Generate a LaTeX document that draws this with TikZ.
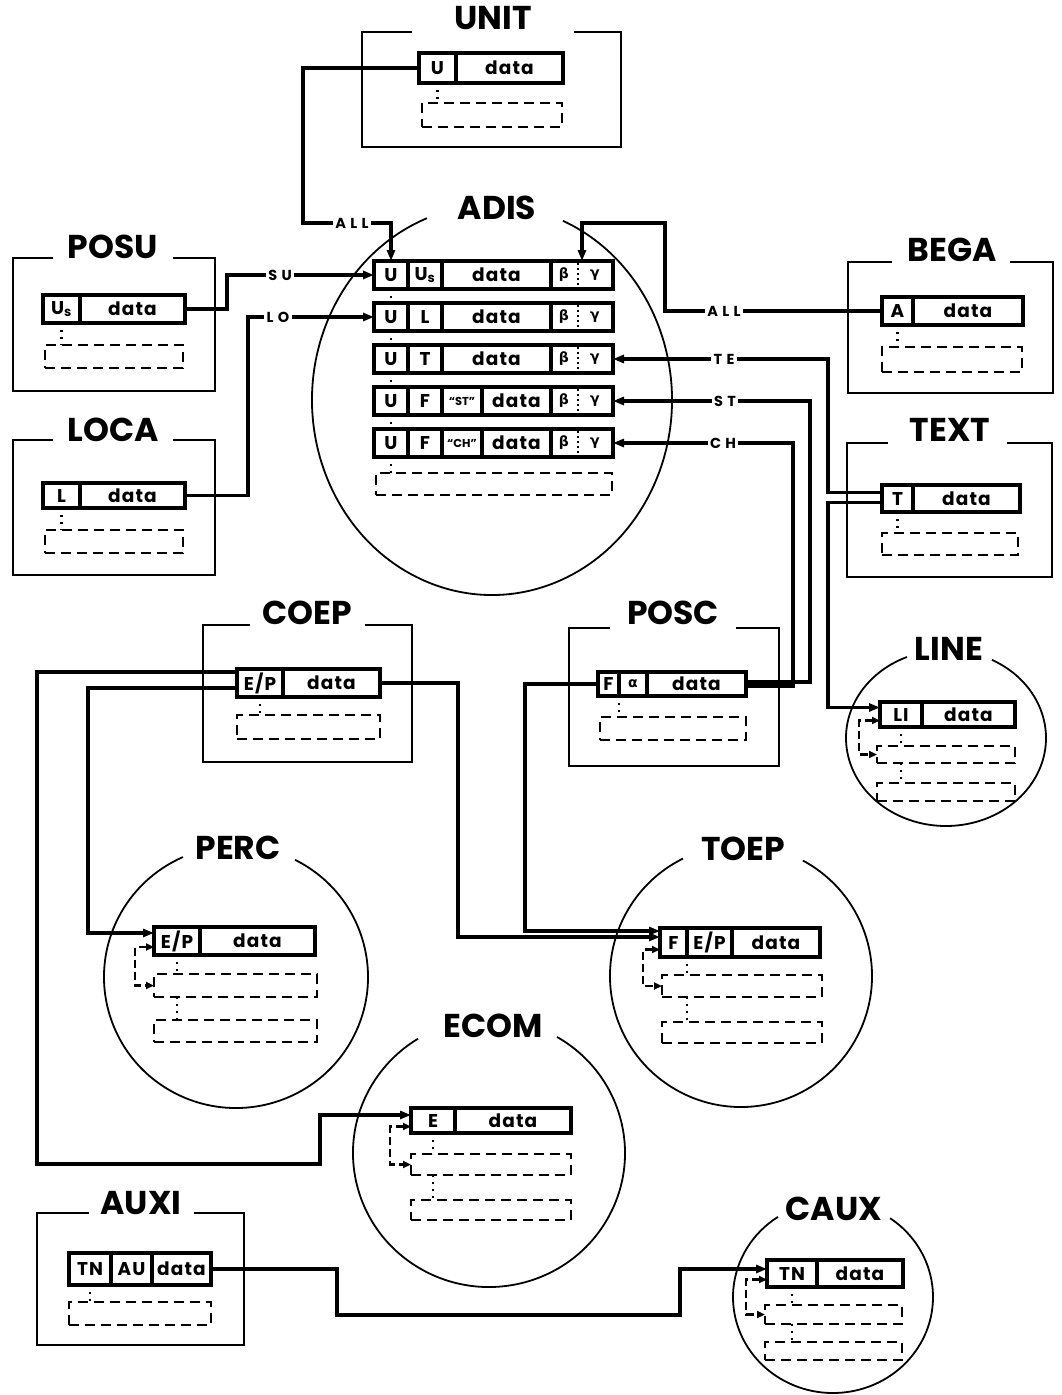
\documentclass[tikz,border=0pt]{standalone}
\usepackage{fontspec}
\setmainfont{Poppins}
\newfontfamily\grk{DejaVu Sans}
\usetikzlibrary{arrows.meta,calc}
\newcommand\ttlfont{\fontsize{33}{33}\selectfont\bfseries}
\newcommand\datafont{\fontsize{18.5}{18.5}\selectfont\bfseries\addfontfeature{LetterSpace=6}}
\newcommand\lblfont{\fontsize{14.5}{14.5}\selectfont\bfseries\addfontfeature{LetterSpace=30}}
\newcommand\gkfont{\fontsize{14}{14}\selectfont\grk\bfseries}
\newcommand\qfont{\fontsize{11.5}{11.5}\selectfont\bfseries}
\newcommand\mkfld[7][]{\node[rec,#1,minimum width={(#4-#3)*1pt},minimum height={(#6-#5)*1pt}] (#2) at ({(#3+#4)/2},{(#5+#6)/2}) {#7};}
\newcommand\mkfrm[6]{\draw[frame] (#5,#3) -- (#1,#3) -- (#1,#4) -- (#2,#4) -- (#2,#3) -- (#6,#3);}
\newcommand\mkring[6]{\draw[frame] ($(#1,#2)+(#5:#3 and #4)$) arc[start angle=#5, end angle=#6, x radius=#3, y radius=#4];}
\begin{document}
\begin{tikzpicture}[x=1pt,y=-1pt,
  frame/.style={line width=1.8pt},
  rec/.style={draw,line width=4pt,inner sep=0pt,outer sep=0pt,font=\datafont},
  dbox/.style={line width=2pt,dash pattern=on 10pt off 6pt},
  dots/.style={line width=2.4pt,dash pattern=on 2pt off 5pt},
  conn/.style={line width=3.4pt},
  arr/.style={conn,-{Triangle[length=11pt,width=8pt]}},
  brk/.style={line width=2.4pt,dash pattern=on 8pt off 4pt,{Triangle[length=8pt,width=7pt]}-{Triangle[length=8pt,width=7pt]}},
  ttl/.style={font=\ttlfont,inner sep=0pt},
  lbl/.style={font=\lblfont,inner sep=2pt},
  gk/.style={font=\gkfont,inner sep=0pt},
]
\fill[white] (0,0) rectangle (1062,1395);
\useasboundingbox (0,0) rectangle (1062,1395);

% ---------- UNIT
\mkfrm{362}{621}{32}{147}{412}{574}
\node[ttl] (tUNIT) at (493,18) {UNIT};
\mkfld{uU}{419}{456}{53}{83}{U}
\mkfld{uD}{456}{563}{53}{83}{data}
\mkfld[dbox]{uX}{422}{562}{103}{127}{}
\draw[dots] (uU.south) -- (uU.south |- uX.north);

% ---------- ADIS
\mkring{492}{400}{180}{195}{-66.8}{248.8}
\node[ttl] (tADIS) at (497,208) {ADIS};
\foreach \k/\ya/\yb/\s in {1/261/289/{U\textsubscript{s}},2/303/331/L,3/345/373/T}{
  \mkfld{aU\k}{374}{408}{\ya}{\yb}{U}
  \mkfld{aS\k}{408}{442}{\ya}{\yb}{\s}
  \mkfld{aD\k}{442}{551}{\ya}{\yb}{data}
  \mkfld{aG\k}{551}{613}{\ya}{\yb}{}
}
\foreach \k/\ya/\yb/\s in {4/387/415/ST,5/429/457/CH}{
  \mkfld{aU\k}{374}{408}{\ya}{\yb}{U}
  \mkfld{aS\k}{408}{442}{\ya}{\yb}{F}
  \mkfld[font=\qfont]{aQ\k}{442}{482}{\ya}{\yb}{``\s''}
  \mkfld{aD\k}{482}{551}{\ya}{\yb}{data}
  \mkfld{aG\k}{551}{613}{\ya}{\yb}{}
}
\foreach \k in {1,...,5}{
  \node[gk] (aB\k) at ($(aG\k.center)+(-18,0)$) {β};
  \node[gk] (aY\k) at ($(aG\k.center)+(13,0)$) {γ};
  \draw[dots,line width=1.5pt,dash pattern=on 2pt off 3pt] ($(aG\k.north)+(-4,2)$) -- ($(aG\k.south)+(-4,-2)$);
}
\mkfld[dbox]{aX}{376}{612}{473}{495}{}
\foreach \k/\n in {1/2,2/3,3/4,4/5} \draw[dots] (aU\k.south) -- (aU\n.north);
\draw[dots] (aU5.south) -- (aU5.south |- aX.north);

% ---------- POSU
\mkfrm{13}{215}{258}{391}{53}{173}
\node[ttl] (tPOSU) at (113,247) {POSU};
\mkfld{pU}{43}{80}{295}{323}{U\textsubscript{s}}
\mkfld{pD}{80}{185}{295}{323}{data}
\mkfld[dbox]{pX}{45}{183}{345}{368}{}
\draw[dots] (pU.south) -- (pU.south |- pX.north);

% ---------- LOCA
\mkfrm{13}{215}{440}{575}{53}{173}
\node[ttl] (tLOCA) at (113,430) {LOCA};
\mkfld{lU}{43}{80}{483}{508}{L}
\mkfld{lD}{80}{185}{483}{508}{data}
\mkfld[dbox]{lX}{45}{183}{530}{553}{}
\draw[dots] (lU.south) -- (lU.south |- lX.north);

% ---------- BEGA
\mkfrm{848}{1053}{262}{393}{892}{1010}
\node[ttl] (tBEGA) at (952,250) {BEGA};
\mkfld{bA}{882}{913}{297}{325}{A}
\mkfld{bD}{913}{1023}{297}{325}{data}
\mkfld[dbox]{bX}{882}{1022}{347}{372}{}
\draw[dots] (bA.south) -- (bA.south |- bX.north);

% ---------- TEXT
\mkfrm{847}{1052}{443}{577}{888}{1007}
\node[ttl] (tTEXT) at (950,430) {TEXT};
\mkfld{tT}{882}{913}{485}{512}{T}
\mkfld{tD}{913}{1020}{485}{512}{data}
\mkfld[dbox]{tX}{882}{1018}{533}{555}{}
\draw[dots] (tT.south) -- (tT.south |- tX.north);

% ---------- COEP
\mkfrm{203}{412}{625}{762}{250}{365}
\node[ttl] (tCOEP) at (307,613) {COEP};
\mkfld{cEP}{237}{283}{669}{697}{E/P}
\mkfld{cD}{283}{380}{669}{697}{data}
\mkfld[dbox]{cX}{237}{380}{715}{739}{}
\draw[dots] (cEP.south) -- (cEP.south |- cX.north);

% ---------- POSC
\mkfrm{569}{779}{628}{766}{610}{736}
\node[ttl] (tPOSC) at (673,613) {POSC};
\mkfld{sF}{598}{619}{672}{696}{F}
\mkfld[font=\gkfont]{sA}{619}{647}{672}{696}{α}
\mkfld{sD}{647}{746}{672}{696}{data}
\mkfld[dbox]{sX}{600}{746}{717}{740}{}
\draw[dots] (sF.south east) -- (sF.south east |- sX.north);

% ---------- LINE
\mkring{946}{738}{100}{88}{-62.6}{247}
\node[ttl] (tLINE) at (949,649) {LINE};
\mkfld{liL}{880}{922}{702}{727}{LI}
\mkfld{liD}{922}{1015}{702}{727}{data}
\mkfld[dbox]{liX1}{877}{1015}{746}{763}{}
\mkfld[dbox]{liX2}{877}{1015}{783}{801}{}
\draw[dots] (liL.south) -- (liL.south |- liX1.north);
\draw[dots] (liL.south |- liX1.south) -- (liL.south |- liX2.north);
\draw[brk] ($(liL.west)+(0,6)$) -- ++(-21,0) |- (liX1.west);

% ---------- PERC
\mkring{236}{977}{132}{131}{-63.45}{246.3}
\node[ttl] (tPERC) at (238,848) {PERC};
\mkfld{peEP}{154}{200}{927}{955}{E/P}
\mkfld{peD}{200}{315}{927}{955}{data}
\mkfld[dbox]{peX1}{154}{317}{974}{997}{}
\mkfld[dbox]{peX2}{154}{317}{1020}{1042}{}
\draw[dots] (peEP.south) -- (peEP.south |- peX1.north);
\draw[dots] (peEP.south |- peX1.south) -- (peEP.south |- peX2.north);
\draw[brk] ($(peEP.west)+(0,6)$) -- ++(-19,0) |- (peX1.west);

% ---------- TOEP
\mkring{741}{976}{131}{131}{-61.8}{243.7}
\node[ttl] (tTOEP) at (743,849) {TOEP};
\mkfld{toF}{660}{687}{928}{957}{F}
\mkfld{toEP}{687}{732}{928}{957}{E/P}
\mkfld{toD}{732}{820}{928}{957}{data}
\mkfld[dbox]{toX1}{662}{822}{975}{997}{}
\mkfld[dbox]{toX2}{662}{822}{1022}{1043}{}
\draw[dots] (toF.south east) -- (toF.south east |- toX1.north);
\draw[dots] (toF.south east |- toX1.south) -- (toF.south east |- toX2.north);
\draw[brk] ($(toF.west)+(0,7)$) -- ++(-17,0) |- (toX1.west);

% ---------- ECOM
\mkring{489}{1153}{136}{134}{-60}{238.5}
\node[ttl] (tECOM) at (493,1026) {ECOM};
\mkfld{eE}{411}{455}{1108}{1133}{E}
\mkfld{eD}{455}{571}{1108}{1133}{data}
\mkfld[dbox]{eX1}{411}{571}{1154}{1175}{}
\mkfld[dbox]{eX2}{411}{571}{1200}{1220}{}
\draw[dots] (eE.south) -- (eE.south |- eX1.north);
\draw[dots] (eE.south |- eX1.south) -- (eE.south |- eX2.north);
\draw[brk] ($(eE.west)+(0,6)$) -- ++(-21,0) |- (eX1.west);

% ---------- AUXI
\mkfrm{37}{244}{1213}{1345}{89}{194}
\node[ttl] (tAUXI) at (141,1203) {AUXI};
\mkfld{xT}{69}{111}{1253}{1285}{TN}
\mkfld{xA}{111}{152}{1253}{1285}{AU}
\mkfld{xD}{152}{211}{1253}{1285}{data}
\mkfld[dbox]{xX}{69}{211}{1302}{1325}{}
\draw[dots] (xT.south) -- (xT.south |- xX.north);

% ---------- CAUX
\mkring{833}{1297}{100}{96}{-55.2}{236.6}
\node[ttl] (tCAUX) at (834,1209) {CAUX};
\mkfld{kT}{767}{817}{1260}{1287}{TN}
\mkfld{kD}{817}{903}{1260}{1287}{data}
\mkfld[dbox]{kX1}{765}{902}{1305}{1324}{}
\mkfld[dbox]{kX2}{765}{902}{1342}{1360}{}
\draw[dots] (kT.south) -- (kT.south |- kX1.north);
\draw[dots] (kT.south |- kX1.south) -- (kT.south |- kX2.north);
\draw[brk] ($(kT.west)+(0,6)$) -- ++(-21,0) |- (kX1.west);

% ---------- labels on connectors
\node[lbl] (lA1) at (352,223) {ALL};
\node[lbl] (lA2) at (724,311) {ALL};
\node[lbl] (lSU) at (280,275) {SU};
\node[lbl] (lLO) at (278,317) {LO};
\node[lbl] (lTE) at (724,359) {TE};
\node[lbl] (lST) at (725,401) {ST};
\node[lbl] (lCH) at (723,443) {CH};

% ---------- connectors
\draw[conn] (uU.west) -| (303,223) -- (lA1.west);
\draw[arr] (lA1.east) -| (aU1.north);
\draw[conn] (bA.west) -- (lA2.east);
\draw[arr] (lA2.west) -| (665,223) -| (aG1.north);
\draw[conn] (pD.east) -| (227,275) -- (lSU.west);
\draw[arr] (lSU.east) -- (aU1.west);
\draw[conn] (lD.east) -| (248,317) -- (lLO.west);
\draw[arr] (lLO.east) -- (aU2.west);
\draw[conn] ($(tT.west)+(0,-6)$) -| (828,359) -- (lTE.east);
\draw[arr] (lTE.west) -- (aG3.east);
\draw[conn] ($(sD.east)+(0,-2)$) -| (810,401) -- (lST.east);
\draw[arr] (lST.west) -- (aG4.east);
\draw[conn] ($(sD.east)+(0,2)$) -| (793,443) -- (lCH.east);
\draw[arr] (lCH.west) -- (aG5.east);
\draw[arr] ($(tT.west)+(0,4)$) -| ($(liL.west)+(-52,-7)$) -- ($(liL.west)+(0,-7)$);
\draw[arr] ($(cEP.west)+(0,-11)$) -| (37,1164) -| (320,1115) -- ($(eE.west)+(0,-5.5)$);
\draw[arr] ($(cEP.west)+(0,5)$) -| (88,933) -- ($(peEP.west)+(0,-8)$);
\draw[arr] (cD.east) -| (458,937) -- ($(toF.west)+(0,-5.5)$);
\draw[arr] (sF.west) -| (525,931) -- ($(toF.west)+(0,-11.5)$);
\draw[arr] (xD.east) -| (337,1315) -| (680,1269) -- ($(kT.west)+(0,-4.5)$);
\end{tikzpicture}
\end{document}
